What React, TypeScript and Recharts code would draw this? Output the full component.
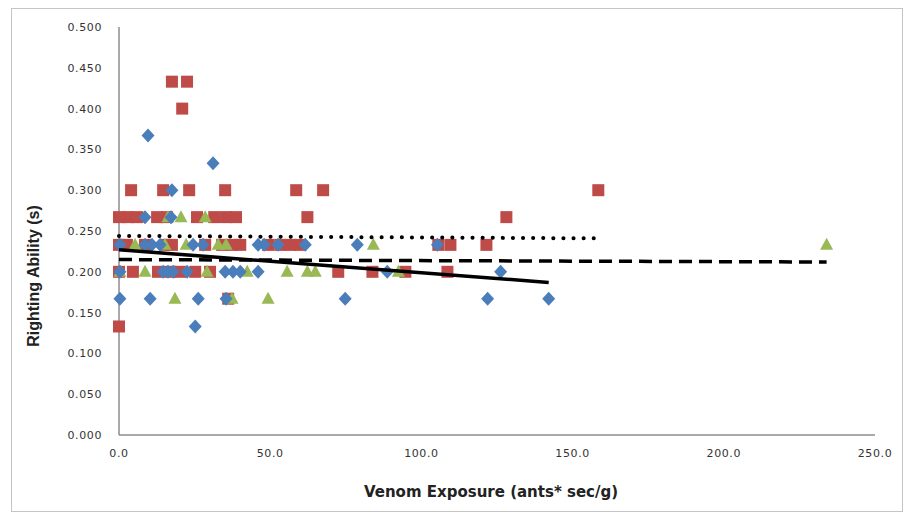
import React from 'react';
import { ScatterChart, Scatter, XAxis, YAxis } from 'recharts';

// righting ability (s) vs venom exposure, three groups
const blueDiamonds = [
  { x: 9.6, y: 0.367 }, { x: 31.1, y: 0.333 }, { x: 17.5, y: 0.3 },
  { x: 8.6, y: 0.267 }, { x: 17.2, y: 0.267 },
  { x: 0.3, y: 0.233 }, { x: 8.6, y: 0.233 }, { x: 10.9, y: 0.233 }, { x: 13.6, y: 0.233 },
  { x: 24.5, y: 0.233 }, { x: 27.8, y: 0.233 }, { x: 46.0, y: 0.233 }, { x: 48.0, y: 0.233 },
  { x: 52.6, y: 0.233 }, { x: 61.6, y: 0.233 }, { x: 78.8, y: 0.233 }, { x: 105.3, y: 0.233 },
  { x: 0.3, y: 0.2 }, { x: 14.6, y: 0.2 }, { x: 16.2, y: 0.2 }, { x: 17.9, y: 0.2 },
  { x: 22.5, y: 0.2 }, { x: 35.1, y: 0.2 }, { x: 37.7, y: 0.2 }, { x: 40.1, y: 0.2 },
  { x: 46.0, y: 0.2 }, { x: 88.7, y: 0.2 }, { x: 126.2, y: 0.2 },
  { x: 0.3, y: 0.167 }, { x: 10.3, y: 0.167 }, { x: 26.2, y: 0.167 }, { x: 35.4, y: 0.167 },
  { x: 74.8, y: 0.167 }, { x: 121.9, y: 0.167 }, { x: 142.1, y: 0.167 },
  { x: 25.2, y: 0.133 },
];

const redSquares = [
  { x: 17.5, y: 0.433 }, { x: 22.5, y: 0.433 }, { x: 20.9, y: 0.4 },
  { x: 4.0, y: 0.3 }, { x: 14.6, y: 0.3 }, { x: 23.2, y: 0.3 }, { x: 35.1, y: 0.3 },
  { x: 58.6, y: 0.3 }, { x: 67.5, y: 0.3 }, { x: 158.5, y: 0.3 },
  { x: 0, y: 0.267 }, { x: 3.0, y: 0.267 }, { x: 6.0, y: 0.267 }, { x: 12.6, y: 0.267 },
  { x: 15.9, y: 0.267 }, { x: 25.8, y: 0.267 }, { x: 31.5, y: 0.267 }, { x: 35.4, y: 0.267 },
  { x: 38.7, y: 0.267 }, { x: 62.3, y: 0.267 }, { x: 128.1, y: 0.267 },
  { x: 0, y: 0.233 }, { x: 2.6, y: 0.233 }, { x: 8.6, y: 0.233 }, { x: 15.2, y: 0.233 },
  { x: 17.5, y: 0.233 }, { x: 28.5, y: 0.233 }, { x: 34.1, y: 0.233 }, { x: 37.4, y: 0.233 },
  { x: 40.1, y: 0.233 }, { x: 49.3, y: 0.233 }, { x: 53.3, y: 0.233 }, { x: 56.6, y: 0.233 },
  { x: 59.9, y: 0.233 }, { x: 105.6, y: 0.233 }, { x: 109.6, y: 0.233 }, { x: 121.5, y: 0.233 },
  { x: 0, y: 0.2 }, { x: 4.6, y: 0.2 }, { x: 12.9, y: 0.2 }, { x: 16.9, y: 0.2 },
  { x: 20.2, y: 0.2 }, { x: 25.2, y: 0.2 }, { x: 30.1, y: 0.2 }, { x: 72.5, y: 0.2 },
  { x: 83.8, y: 0.2 }, { x: 94.7, y: 0.2 }, { x: 108.6, y: 0.2 },
  { x: 36.1, y: 0.167 }, { x: 0, y: 0.133 },
];

const greenTriangles = [
  { x: 16.2, y: 0.267 }, { x: 20.5, y: 0.267 }, { x: 28.5, y: 0.267 },
  { x: 5.3, y: 0.233 }, { x: 15.2, y: 0.233 }, { x: 22.2, y: 0.233 }, { x: 32.8, y: 0.233 },
  { x: 35.4, y: 0.233 }, { x: 84.1, y: 0.233 }, { x: 234.0, y: 0.233 },
  { x: 0.3, y: 0.2 }, { x: 8.6, y: 0.2 }, { x: 29.1, y: 0.2 }, { x: 42.4, y: 0.2 },
  { x: 55.6, y: 0.2 }, { x: 62.3, y: 0.2 }, { x: 64.9, y: 0.2 }, { x: 92.4, y: 0.2 },
  { x: 18.5, y: 0.167 }, { x: 37.4, y: 0.167 }, { x: 49.3, y: 0.167 },
];

// linear trendline end points
const blueTrend = [{ x: 0, y: 0.227 }, { x: 142.1, y: 0.187 }];
const redTrend = [{ x: 0, y: 0.244 }, { x: 157, y: 0.241 }];
const greenTrend = [{ x: 0, y: 0.215 }, { x: 234, y: 0.212 }];

const xTicks = [0, 50, 100, 150, 200, 250];
const yTicks = [0, 0.05, 0.1, 0.15, 0.2, 0.25, 0.3, 0.35, 0.4, 0.45, 0.5];

const Diamond = (p: any) => (
  <polygon
    points={`${p.cx},${p.cy - 7} ${p.cx + 6.5},${p.cy} ${p.cx},${p.cy + 7} ${p.cx - 6.5},${p.cy}`}
    fill="#4a7ebb"
  />
);
const Square = (p: any) => <rect x={p.cx - 6} y={p.cy - 6} width={12} height={12} fill="#be4b48" />;
const Triangle = (p: any) => (
  <polygon
    points={`${p.cx},${p.cy - 7} ${p.cx + 6.5},${p.cy + 5} ${p.cx - 6.5},${p.cy + 5}`}
    fill="#98b954"
  />
);
const NoDot = () => <g />;

const tickStyle = { fontSize: 11, fill: '#333', fontFamily: 'DejaVu Sans', letterSpacing: 0.6 };

const YTitle = () => (
  <text
    x={33}
    y={276}
    transform="rotate(-90, 33, 276)"
    textAnchor="middle"
    dominantBaseline="central"
    fontSize={16}
    fontWeight="bold"
    fontFamily="Liberation Sans"
    fill="#222"
  >
    Righting Ability (s)
  </text>
);

const XTitle = () => (
  <text
    x={491}
    y={492}
    textAnchor="middle"
    dominantBaseline="central"
    fontSize={15}
    fontWeight="bold"
    fontFamily="DejaVu Sans"
    fill="#222"
  >
    Venom Exposure (ants* sec/g)
  </text>
);

export default function App() {
  return (
    <div style={{ position: 'absolute', left: 0, top: 0, width: 907, height: 516, background: '#fff' }}>
      <div
        style={{
          position: 'absolute', left: 11, top: 8, width: 892, height: 504,
          border: '1px solid #c4c4c4', boxSizing: 'border-box',
        }}
      />
      <ScatterChart
        width={907}
        height={516}
        margin={{ top: 27, right: 32, left: 0, bottom: 0 }}
        style={{ position: 'absolute', left: 0, top: 0 }}
      >
        <XAxis
          type="number"
          dataKey="x"
          domain={[0, 250]}
          ticks={xTicks}
          tickFormatter={(v: number) => v.toFixed(1)}
          height={81}
          tickLine={false}
          tickSize={0}
          tickMargin={14}
          tick={tickStyle}
          axisLine={{ stroke: '#8c8c8c', strokeWidth: 1.5 }}
          label={<XTitle />}
        />
        <YAxis
          type="number"
          dataKey="y"
          domain={[0, 0.5]}
          ticks={yTicks}
          tickFormatter={(v: number) => v.toFixed(3)}
          width={119}
          tickLine={false}
          tickSize={0}
          tickMargin={17}
          tick={tickStyle}
          axisLine={{ stroke: '#8c8c8c', strokeWidth: 1.5 }}
          label={<YTitle />}
        />
        <Scatter data={redSquares} shape={Square} isAnimationActive={false} />
        <Scatter data={greenTriangles} shape={Triangle} isAnimationActive={false} />
        <Scatter data={blueDiamonds} shape={Diamond} isAnimationActive={false} />
        <Scatter
          data={redTrend}
          shape={NoDot}
          line={{ stroke: '#000', strokeWidth: 4, strokeDasharray: '0.1 10', strokeLinecap: 'round' }}
          isAnimationActive={false}
        />
        <Scatter
          data={greenTrend}
          shape={NoDot}
          line={{ stroke: '#000', strokeWidth: 3.5, strokeDasharray: '13 7' }}
          isAnimationActive={false}
        />
        <Scatter
          data={blueTrend}
          shape={NoDot}
          line={{ stroke: '#000', strokeWidth: 3.5 }}
          isAnimationActive={false}
        />
      </ScatterChart>
    </div>
  );
}
